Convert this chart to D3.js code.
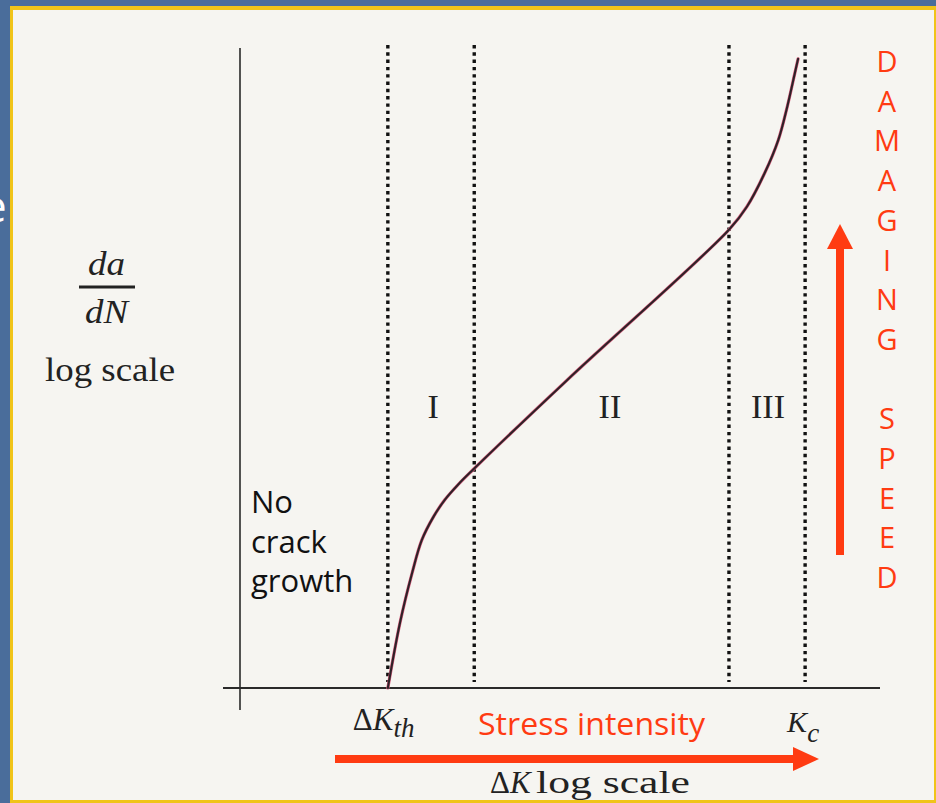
<!DOCTYPE html>
<html><head><meta charset="utf-8">
<script src="https://cdn.jsdelivr.net/npm/d3@7"></script>
<style>body{margin:0;background:#4a6d9b}svg{display:block}</style>
</head><body><svg id="c" width="936" height="803"></svg>
<script>
// ---- data (abstract log-log units) ----
const curveX = [23.1, 25.0, 26.9, 28.4, 30.2, 32.0, 34.1, 36.4, 51.1, 76.4, 79.2, 82.0, 84.1, 85.5, 86.7, 87.2];
const curveY = [0, 10.2, 18.0, 23.1, 26.7, 29.4, 31.8, 34.1, 48.1, 71.6, 75.2, 80.5, 85.6, 90.8, 96.1, 98.3];
const regionBounds = [23.1, 36.6, 76.4, 88.3];
const regionNames = ["I", "II", "III"];
const regionLabelX = [30.2, 57.8, 82.5];
const regionLabelY = 42.2;
const speedLetters = "DAMAGING SPEED".split("");
const noGrowthLines = ["No", "crack", "growth"];

const svg = d3.select("#c");
const W = 936, H = 803;
const x = d3.scaleLinear().domain([0, 100]).range([240, 880]);
const y = d3.scaleLinear().domain([0, 100]).range([688, 48]);
const serif = "'Liberation Serif','Times New Roman',serif";
const sans = "'Open Sans','Noto Sans',sans-serif";
const red = "#ff3b12";

// slide background
svg.append("rect").attr("width", W).attr("height", H).attr("fill", "#4a6d9b");
svg.append("text").attr("x", -18).attr("y", 222).attr("font-family", sans)
  .attr("font-size", 44).attr("fill", "#ffffff").text("e");
svg.append("rect").attr("x", 10).attr("y", 6).attr("width", W - 10).attr("height", H - 6).attr("fill", "#f0c419");
svg.append("rect").attr("x", 13).attr("y", 10).attr("width", W - 15).attr("height", H - 13).attr("fill", "#f6f5f1");

// region boundaries (dotted)
svg.append("g").selectAll("line").data(regionBounds).join("line")
  .attr("x1", d => x(d)).attr("x2", d => x(d))
  .attr("y1", 45).attr("y2", 682)
  .attr("stroke", "#111").attr("stroke-width", 3.4)
  .attr("stroke-dasharray", "3.4 3.9");

// axes
svg.append("line").attr("x1", x(0)).attr("x2", x(0)).attr("y1", y(100)).attr("y2", 710)
  .attr("stroke", "#2a2a2a").attr("stroke-width", 1.6);
svg.append("line").attr("x1", 223).attr("x2", x(100)).attr("y1", y(0)).attr("y2", y(0))
  .attr("stroke", "#2a2a2a").attr("stroke-width", 2.2);

// crack growth curve
const pts = curveX.map((v, i) => [v, curveY[i]]);
const line = d3.line().x(d => x(d[0])).y(d => y(d[1])).curve(d3.curveCatmullRom.alpha(0.5));
svg.append("path").attr("d", line(pts)).attr("fill", "none")
  .attr("stroke", "#d8607f").attr("stroke-width", 3.2).attr("stroke-linecap", "round");
svg.append("path").attr("d", line(pts)).attr("fill", "none")
  .attr("stroke", "#2e2228").attr("stroke-width", 2.1).attr("stroke-linecap", "round");

// region labels
svg.append("g").selectAll("text").data(regionNames).join("text")
  .attr("x", (d, i) => x(regionLabelX[i])).attr("y", y(regionLabelY))
  .attr("text-anchor", "middle").attr("font-family", serif).attr("font-size", 34)
  .attr("fill", "#222").text(d => d);

// y label: da/dN log scale
svg.append("text").attr("x", 88).attr("y", 275)
  .attr("font-family", serif).attr("font-style", "italic").attr("font-size", 33).attr("fill", "#222")
  .attr("textLength", 37).attr("lengthAdjust", "spacingAndGlyphs").text("da");
svg.append("line").attr("x1", 79).attr("x2", 135).attr("y1", 287).attr("y2", 287)
  .attr("stroke", "#222").attr("stroke-width", 3);
svg.append("text").attr("x", 85).attr("y", 323)
  .attr("font-family", serif).attr("font-style", "italic").attr("font-size", 33).attr("fill", "#222")
  .attr("textLength", 43).attr("lengthAdjust", "spacingAndGlyphs").text("dN");
svg.append("text").attr("x", 45).attr("y", 381).attr("font-family", serif).attr("font-size", 33)
  .attr("fill", "#222").attr("textLength", 130).attr("lengthAdjust", "spacingAndGlyphs").text("log scale");

// No crack growth
svg.append("g").selectAll("text").data(noGrowthLines).join("text")
  .attr("x", 251).attr("y", (d, i) => 513 + i * 39.5)
  .attr("font-family", sans).attr("font-size", 31).attr("fill", "#111").text(d => d);

// x tick labels
const kth = svg.append("text").attr("x", x(regionBounds[0]) - 35).attr("y", 730)
  .attr("font-family", serif).attr("font-size", 31).attr("fill", "#222");
kth.append("tspan").text("Δ");
kth.append("tspan").attr("font-style", "italic").text("K");
kth.append("tspan").attr("font-style", "italic").attr("font-size", 27).attr("dy", 7).text("th");

const kc = svg.append("text").attr("x", x(regionBounds[3]) - 18).attr("y", 732)
  .attr("font-family", serif).attr("font-size", 30).attr("fill", "#222");
kc.append("tspan").attr("font-style", "italic").text("K");
kc.append("tspan").attr("font-style", "italic").attr("font-size", 27).attr("dy", 10).text("c");

svg.append("text").attr("x", 478).attr("y", 735).attr("font-family", sans).attr("font-size", 31)
  .attr("fill", red).attr("textLength", 227).attr("lengthAdjust", "spacingAndGlyphs").text("Stress intensity");

// horizontal arrow
svg.append("rect").attr("x", 335).attr("y", 755).attr("width", 460).attr("height", 8).attr("fill", red);
svg.append("path").attr("d", "M793,747 L819,759 L793,771 Z").attr("fill", red);

const dk = svg.append("text").attr("x", 490).attr("y", 793).attr("font-family", serif)
  .attr("font-size", 31).attr("fill", "#222");
dk.append("tspan").text("Δ");
dk.append("tspan").attr("font-style", "italic").text("K");
svg.append("text").attr("x", 536).attr("y", 793).attr("font-family", serif).attr("font-size", 31)
  .attr("fill", "#222").attr("textLength", 154).attr("lengthAdjust", "spacingAndGlyphs").text("log scale");

// vertical arrow
svg.append("rect").attr("x", 836).attr("y", 246).attr("width", 8).attr("height", 309).attr("fill", red);
svg.append("path").attr("d", "M827,249 L840,224 L853,249 Z").attr("fill", red);

// DAMAGING SPEED
svg.append("g").selectAll("text").data(speedLetters).join("text")
  .attr("x", 887).attr("y", (d, i) => 72 + i * 39.7)
  .attr("text-anchor", "middle").attr("font-family", sans).attr("font-size", 29)
  .attr("fill", red).text(d => d);
</script></body></html>
